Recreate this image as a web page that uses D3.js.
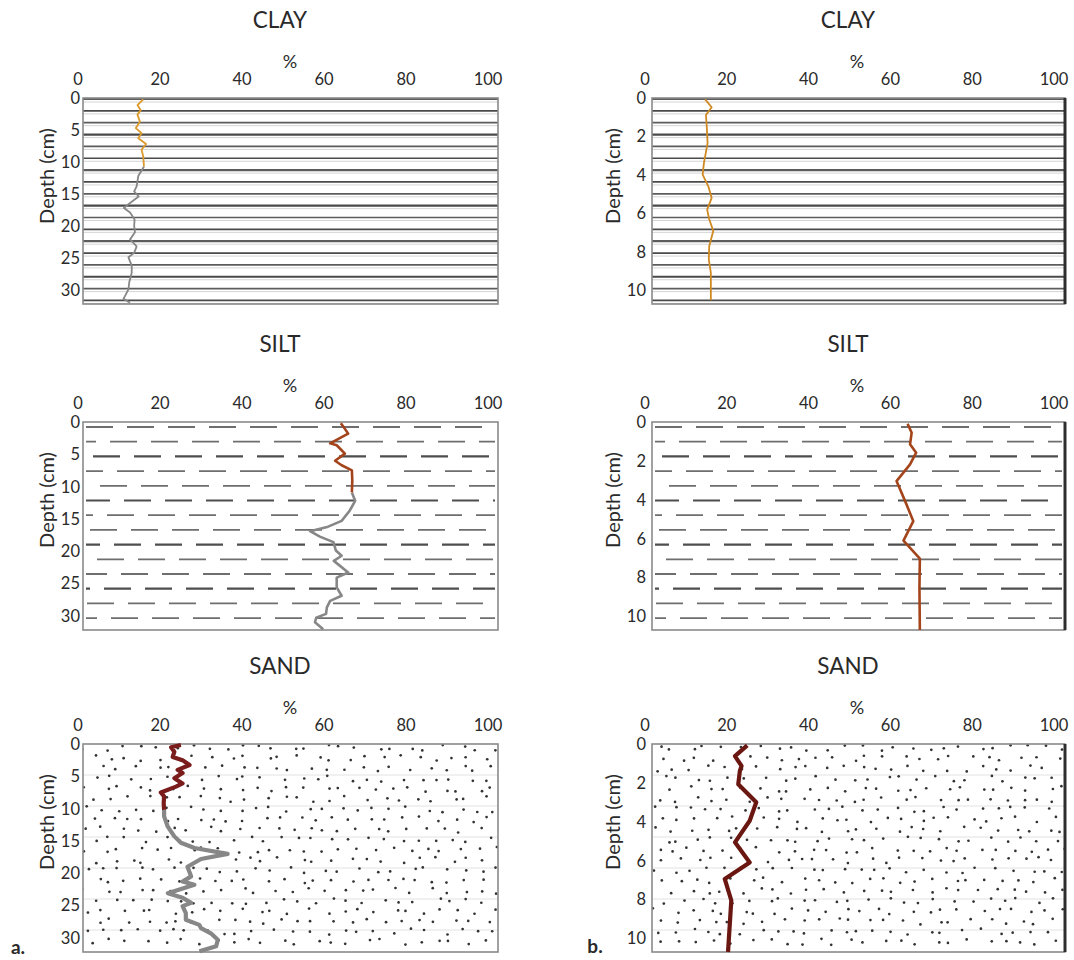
<!DOCTYPE html>
<html><head><meta charset="utf-8">
<script src="https://cdn.jsdelivr.net/npm/d3@7"></script>
<style>
html,body{margin:0;padding:0;background:#fff;}
text{font-family:Lato,"Open Sans",sans-serif;fill:#2a2a2a;}
</style></head>
<body><svg id="chart" width="1074" height="960"></svg>
<script>
// ---------- data ----------
const xTicks = [0, 20, 40, 60, 80, 100];
const yTicksA = [0, 5, 10, 15, 20, 25, 30];
const yTicksB = [0, 2, 4, 6, 8, 10];
const titles = ["CLAY", "SILT", "SAND"];

// profile a (0-32 cm)
const clayDepthA = [0.2,1.1,1.9,2.6,3.7,4.7,5.5,6.3,7.2,8.1,9.1,10.7,12.2,13.8,14.6,15.4,16.4,17.2,17.9,19,20,21,22.1,23.2,24.2,24.9,26.2,27.3,28.8,29.9,31.4,32];
const clayA = [15.9,14.5,15.3,14.5,15.1,14.1,15.5,14.7,16.6,15.5,15.9,16.1,14.7,14.3,13.7,14.8,12.7,11.2,12.7,13.8,13.7,13.9,12.7,14.3,13.7,12.3,13.1,13.1,12.5,12.3,11.1,12.7];
const siltDepthA = [0.2,0.7,1.8,2.35,3.3,3.6,4.9,6.0,6.7,7.5,9.1,10.9,12.2,13.7,15.3,16.2,16.9,17.75,18.6,19.9,20.7,21.5,23.3,24.1,25.6,26.9,27.7,28.7,29.7,30.3,31.0,32.1];
const siltA = [64.1,64.7,65.9,64.3,61.5,63.1,65.1,62.7,64.3,66.8,66.9,66.8,67.6,66.3,64.3,61.0,56.6,59.0,62.3,62.9,64.3,62.4,65.9,63.1,63.1,64.3,61.5,60.7,60.5,58.1,57.8,59.8];
const sandDepthA = [0.15,0.5,1.2,2.0,2.5,3.25,4.0,4.5,5.3,6.1,6.6,7.5,8.1,9.2,10.2,11.2,12.8,14.3,15.3,16.1,17.0,17.8,19.0,20.5,21.3,21.8,23.1,23.8,24.6,25.1,26.2,27.2,28.0,28.5,29.3,30.3,31.3,32.1];
const sandA = [25.1,22.7,23.5,23.1,25.5,27.2,24.3,25.5,23.5,25.5,23.9,20.2,21.0,20.9,21.0,21.0,21.9,23.5,25.1,28.4,36.5,30.0,26.7,27.6,25.5,28.4,21.9,25.5,27.6,25.5,26.3,26.3,29.6,30.0,32.4,34.1,33.7,29.6];
const colouredToA = [10.7, 10.9, 10.2]; // depth where coloured upper part ends

// profile b (0-10.7 cm)
const clayDepthB = [0.07,0.48,0.88,1.48,2.34,3.38,3.98,4.6,5.19,5.8,6.3,6.9,7.7,8.4,9.07,10.5];
const clayB = [14.7,16.3,14.9,15.1,15.3,14.4,14.1,15.5,16.3,15.2,15.7,16.7,15.7,15.6,16.1,16.1];
const siltDepthB = [0.09,0.55,1.15,1.58,2.18,3.04,4.07,5.1,6.1,7.03,8.54,10.7];
const siltB = [64.2,65.2,64.8,66.3,64.8,61.5,63.6,65.6,63.2,67.2,67.1,67.2];
const sandDepthB = [0.07,0.62,1.13,1.38,2.07,3.0,3.95,5.06,6.09,6.94,8.05,10.7];
const sandB = [25.0,22.0,23.6,23.2,22.8,27.2,25.6,22.0,25.6,19.5,21.1,20.3];

// ---------- layout / style ----------
const svg = d3.select("#chart");
const rowTop = [98, 422, 744], rowBot = [304, 630, 952];
const cols = [
  {key:"a", tick0:78, tick100:488, boxL:83, boxR:498, maxD:32.2, yTicks:yTicksA, labelR:80, depthX:47,
   depths:[clayDepthA, siltDepthA, sandDepthA], vals:[clayA, siltA, sandA], split:colouredToA, titleX:280, pctX:290, thickRight:false},
  {key:"b", tick0:645, tick100:1054, boxL:652, boxR:1065, maxD:10.7, yTicks:yTicksB, labelR:646, depthX:613,
   depths:[clayDepthB, siltDepthB, sandDepthB], vals:[clayB, siltB, sandB], split:[99,99,99], titleX:848, pctX:857, thickRight:true}
];
const topColour = {a:["#dc9a2c","#a4441c","#7a1c1c"], b:["#d08a24","#a4441a","#6a1712"]};
const greyColour = "#878787";
const lineW = [1.8, 2.6, 4.2];

// deterministic hash for sand texture
function hash(i){ const s = Math.sin(i*127.1 + 311.7)*43758.5453; return s - Math.floor(s); }

cols.forEach((c, ci) => {
  const x = d3.scaleLinear().domain([0,100]).range([c.tick0, c.tick100]);
  titles.forEach((t, r) => {
    const top = rowTop[r], bot = rowBot[r];
    const y = d3.scaleLinear().domain([0, c.maxD]).range([top, bot]);
    const g = svg.append("g");
    const clipId = `clip-${c.key}-${r}`;
    svg.append("clipPath").attr("id", clipId).append("rect")
      .attr("x", c.boxL).attr("y", top).attr("width", c.boxR - c.boxL).attr("height", bot - top);
    const tex = g.append("g").attr("clip-path", `url(#${clipId})`);

    // textures
    if (r === 0) {
      d3.range(top + 1, bot + 1, 11.85).forEach((yy, i) => {
        tex.append("line").attr("x1", c.boxL).attr("x2", c.boxR).attr("y1", yy).attr("y2", yy)
          .attr("stroke", i % 2 ? "#4a4a4a" : "#5c5c5c").attr("stroke-width", i % 3 === 0 ? 2.2 : 1.7);
        tex.append("line").attr("x1", c.boxL).attr("x2", c.boxR).attr("y1", yy+3).attr("y2", yy+3)
          .attr("stroke", "#d4d4d4").attr("stroke-width", 1);
      });
    } else if (r === 1) {
      d3.range(top + 5, bot, 14.7).forEach((yy, i) => {
        tex.append("line").attr("x1", c.boxL + 3).attr("x2", c.boxR - 3).attr("y1", yy).attr("y2", yy)
          .attr("stroke", i % 3 === 2 ? "#4e4e4e" : "#6e6e6e").attr("stroke-width", i % 3 === 2 ? 2.2 : 1.8)
          .attr("stroke-dasharray", "27,14").attr("stroke-dashoffset", (i * 17) % 41);
      });
    } else {
      d3.range(top + 31, bot, 31).forEach(yy => {
        tex.append("line").attr("x1", c.boxL).attr("x2", c.boxR).attr("y1", yy).attr("y2", yy)
          .attr("stroke", "#e2e2e2").attr("stroke-width", 1);
      });
      let k = 0;
      d3.range(top + 4, bot, 10.2).forEach((yy, ri) => {
        d3.range(c.boxL + 4 + (ri % 2) * 8, c.boxR, 17).forEach(xx => {
          k++;
          const jx = (hash(k + ci*1000) - 0.5) * 12, jy = (hash(k*3 + 7 + ci*1000) - 0.5) * 6;
          tex.append("circle").attr("cx", xx + jx).attr("cy", yy + jy).attr("r", 1.35).attr("fill", "#333");
        });
      });
    }

    // frame
    g.append("rect").attr("x", c.boxL).attr("y", top).attr("width", c.boxR - c.boxL).attr("height", bot - top)
      .attr("fill", "none").attr("stroke", "#8a8a8a").attr("stroke-width", 1.6);
    if (c.thickRight) {
      g.append("line").attr("x1", c.boxR).attr("x2", c.boxR).attr("y1", top).attr("y2", bot)
        .attr("stroke", "#2e2e2e").attr("stroke-width", 3);
    }

    // data line
    const pts = c.depths[r].map((d, i) => ({d, v: c.vals[r][i]}));
    const split = c.split[r];
    const upper = pts.filter(p => p.d <= split);
    const lower = pts.filter((p, i) => p.d >= split || (i + 1 < pts.length && pts[i+1].d > split && p.d <= split));
    const line = d3.line().x(p => x(p.v)).y(p => y(p.d)).curve(d3.curveLinear);
    if (lower.length > 1 && split < 99) {
      g.append("path").attr("d", line(lower)).attr("fill", "none").attr("stroke", greyColour)
        .attr("stroke-width", lineW[r]).attr("stroke-linejoin", "round");
    }
    g.append("path").attr("d", line(upper)).attr("fill", "none").attr("stroke", topColour[c.key][r])
      .attr("stroke-width", lineW[r]).attr("stroke-linejoin", "round");

    // x tick labels (top)
    g.selectAll(".xt").data(xTicks).join("text")
      .attr("x", d => x(d)).attr("y", top - 13).attr("text-anchor", "middle")
      .attr("font-size", 16.5).text(d => d);
    // y tick labels
    g.selectAll(".yt").data(c.yTicks).join("text")
      .attr("x", c.labelR).attr("y", d => y(d)).attr("dy", "0.36em").attr("text-anchor", "end")
      .attr("font-size", 16.5).text(d => d);
    // axis titles
    g.append("text").attr("x", c.pctX).attr("y", top - 30).attr("text-anchor", "middle")
      .attr("font-size", 18).text("%");
    g.append("text").attr("transform", `translate(${c.depthX},${top + 78}) rotate(-90)`)
      .attr("text-anchor", "middle").attr("dy", "0.35em").attr("font-size", 20).text("Depth (cm)");
    g.append("text").attr("x", c.titleX).attr("y", top - 70).attr("text-anchor", "middle")
      .attr("font-size", 22.5).text(t);
  });
});

svg.append("text").attr("x", 18).attr("y", 954).attr("text-anchor", "middle")
  .attr("font-size", 19).attr("font-weight", "bold").text("a.");
svg.append("text").attr("x", 595).attr("y", 953).attr("text-anchor", "middle")
  .attr("font-size", 19).attr("font-weight", "bold").text("b.");
</script></body></html>
